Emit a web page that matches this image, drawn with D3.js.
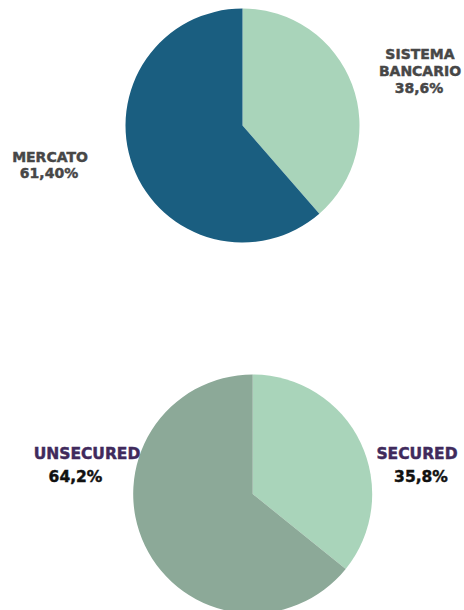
<!DOCTYPE html>
<html>
<head>
<meta charset="utf-8">
<script src="https://cdn.jsdelivr.net/npm/d3@7"></script>
<style>
  body { margin: 0; background: #fff; }
  text { font-family: "DejaVu Sans", Verdana, sans-serif; font-weight: 700; }
</style>
</head>
<body>
<div id="chart"></div>
<script>
// top pie: funding sources
const fundingLabels = ["SISTEMA BANCARIO", "MERCATO"];
const fundingValues = [38.6, 61.4];
const fundingText = ["38,6%", "61,40%"];
const fundingColors = ["#a9d4ba", "#1a5e80"];

// bottom pie: secured vs unsecured
const securedLabels = ["SECURED", "UNSECURED"];
const securedValues = [35.8, 64.2];
const securedText = ["35,8%", "64,2%"];
const securedColors = ["#a9d4ba", "#8ca998"];

const width = 464, height = 610;

const svg = d3.select("#chart")
  .append("svg")
  .attr("width", width)
  .attr("height", height);

const pie = d3.pie().sort(null).value(d => d);

function drawPie(values, colors, cx, cy, r) {
  const arc = d3.arc().innerRadius(0).outerRadius(r);
  const g = svg.append("g").attr("transform", "translate(" + cx + "," + cy + ")");
  g.selectAll("path")
    .data(pie(values))
    .enter()
    .append("path")
    .attr("d", arc)
    .attr("fill", (d, i) => colors[i]);
}

drawPie(fundingValues, fundingColors, 242.5, 125.5, 117);
drawPie(securedValues, securedColors, 252.7, 494, 119.5);

// small stroke to get the heavier look of the original labels
function label(g, x, y, txt, color) {
  g.append("text")
    .attr("x", x)
    .attr("y", y)
    .attr("fill", color)
    .attr("stroke", color)
    .attr("stroke-width", 0.45)
    .text(txt);
}

// top labels (grey)
const topLabels = svg.append("g")
  .attr("font-weight", "bold")
  .style("font-size", "14px")
  .attr("text-anchor", "middle");
label(topLabels, 420, 59, "SISTEMA", "#474747");
label(topLabels, 420, 76, "BANCARIO", "#474747");
label(topLabels, 419, 93, fundingText[0], "#474747");
label(topLabels, 50, 162, fundingLabels[1], "#474747");
label(topLabels, 49, 178, fundingText[1], "#474747");

// bottom labels (purple name, black value)
const bottomLabels = svg.append("g")
  .attr("font-weight", "bold")
  .style("font-size", "15.5px")
  .attr("text-anchor", "middle");
label(bottomLabels, 87, 459, securedLabels[1], "#402a5c");
label(bottomLabels, 75.5, 482, securedText[1], "#111");
label(bottomLabels, 417, 459, securedLabels[0], "#402a5c");
label(bottomLabels, 421, 482, securedText[0], "#111");
</script>
</body>
</html>
